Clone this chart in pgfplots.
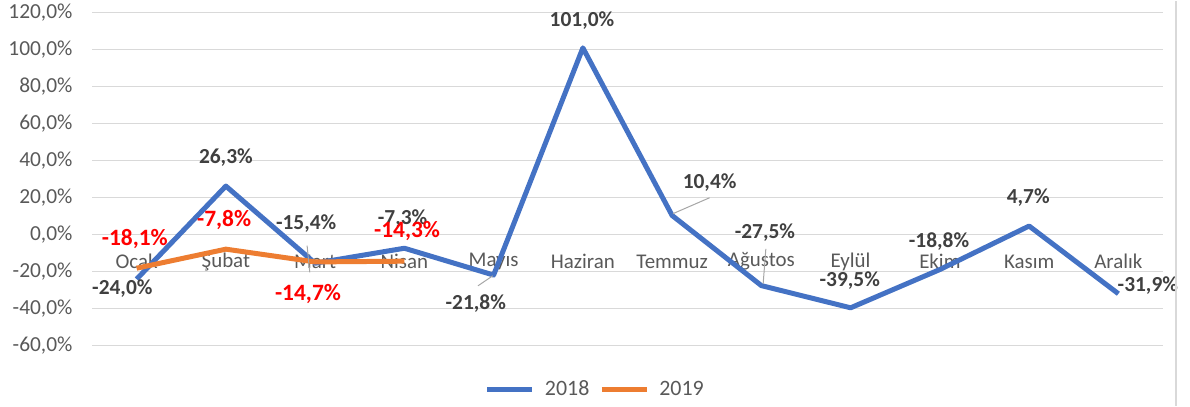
\documentclass[border=0pt]{standalone}
\usepackage{pgfplots}
\pgfplotsset{compat=1.18}
\usepackage{fontspec}
\setmainfont{Carlito}
\definecolor{s2018}{HTML}{4472C4}
\definecolor{s2019}{HTML}{ED7D31}
\definecolor{gridc}{HTML}{D9D9D9}
\definecolor{tickc}{HTML}{595959}
\definecolor{lblc}{HTML}{404040}

\begin{document}
\begin{tikzpicture}
\begin{axis}[
  scale only axis, width=1071bp, height=333bp,
  xmin=-0.5, xmax=11.5, ymin=-60, ymax=120,
  xtick={0,...,11},
  xticklabels={Ocak,Şubat,Mart,Nisan,Mayıs,Haziran,Temmuz,Ağustos,Eylül,Ekim,Kasım,Aralık},
  ytick={-60,-40,...,120},
  yticklabels={-60{,}0\%,-40{,}0\%,-20{,}0\%,0{,}0\%,20{,}0\%,40{,}0\%,60{,}0\%,80{,}0\%,100{,}0\%,120{,}0\%},
  x tick label style={font=\fontsize{21}{24}\selectfont, text=tickc, anchor=center, yshift=84bp},
  y tick label style={font=\fontsize{21.5}{26}\selectfont, text=tickc, xshift=-16bp},
  major tick length=0pt,
  axis line style={draw=none},
  ymajorgrids, grid style={gridc, line width=1.3bp},
  legend style={draw=none, at={(0.47,-0.13)}, anchor=center, legend columns=2,
    font=\fontsize{22}{26}\selectfont, text=tickc, column sep=8bp},
  legend image code/.code={\draw[#1] (0bp,0bp) -- (45bp,0bp);},
  every axis plot/.append style={line width=5bp, line join=round, mark=none},
  clip=false,
]
\addplot[s2018] coordinates {
  (0,-24.0) (1,26.3) (2,-15.4) (3,-7.3) (4,-21.8) (5,101.0)
  (6,10.4) (7,-27.5) (8,-39.5) (9,-18.8) (10,4.7) (11,-31.9)};
\addlegendentry{2018}
\addplot[s2019] coordinates {(0,-18.1) (1,-7.8) (2,-14.7) (3,-14.3)};
\addlegendentry{2019}

% leader lines
\draw[gray!70, line width=1bp] (axis cs:1.91,-5.9) -- (axis cs:1.94,-20.3);
\draw[gray!70, line width=1bp] (axis cs:3.825,-27.6) -- (axis cs:3.99,-22.2);
\draw[gray!70, line width=1bp] (axis cs:6.01,11.4) -- (axis cs:6.42,20);
\draw[gray!70, line width=1bp] (axis cs:7.05,-7.6) -- (axis cs:7.02,-26.5);

% data labels 2018
\tikzset{lb/.style={font=\bfseries\fontsize{21.5}{24}\selectfont, text=lblc, inner sep=0pt},
         lr/.style={font=\bfseries\fontsize{23.5}{26}\selectfont, text=red, inner sep=0pt}}
\node[lb] at (axis cs:-0.16,-29.2) {-24,0\%};
\node[lb] at (axis cs:1.0,41.6) {26,3\%};
\node[lb] at (axis cs:1.9,6.0) {-15,4\%};
\node[lb] at (axis cs:2.98,8.6) {-7,3\%};
\node[lb] at (axis cs:3.8,-37.4) {-21,8\%};
\node[lb] at (axis cs:4.99,116) {101,0\%};
\node[lb] at (axis cs:6.42,28.1) {10,4\%};
\node[lb] at (axis cs:7.04,1.1) {-27,5\%};
\node[lb] at (axis cs:7.99,-24.6) {-39,5\%};
\node[lb] at (axis cs:8.99,-3.8) {-18,8\%};
\node[lb] at (axis cs:9.99,20) {4,7\%};
\node[lb] at (axis cs:11.33,-27.6) {-31,9\%};
% data labels 2019
\node[lr] at (axis cs:-0.02,-2.2) {-18,1\%};
\node[lr] at (axis cs:0.98,8.1) {-7,8\%};
\node[lr] at (axis cs:1.92,-32) {-14,7\%};
\node[lr] at (axis cs:3.03,2.2) {-14,3\%};

\coordinate (bl) at (rel axis cs:-0.0859,-0.1802);
\coordinate (tr) at (rel axis cs:1.0252,1.036);
\draw[gridc, line width=1.5bp] (rel axis cs:1.0121,-0.1802) -- (rel axis cs:1.0121,1.036);
\end{axis}
\useasboundingbox (bl) rectangle (tr);
\end{tikzpicture}
\end{document}
